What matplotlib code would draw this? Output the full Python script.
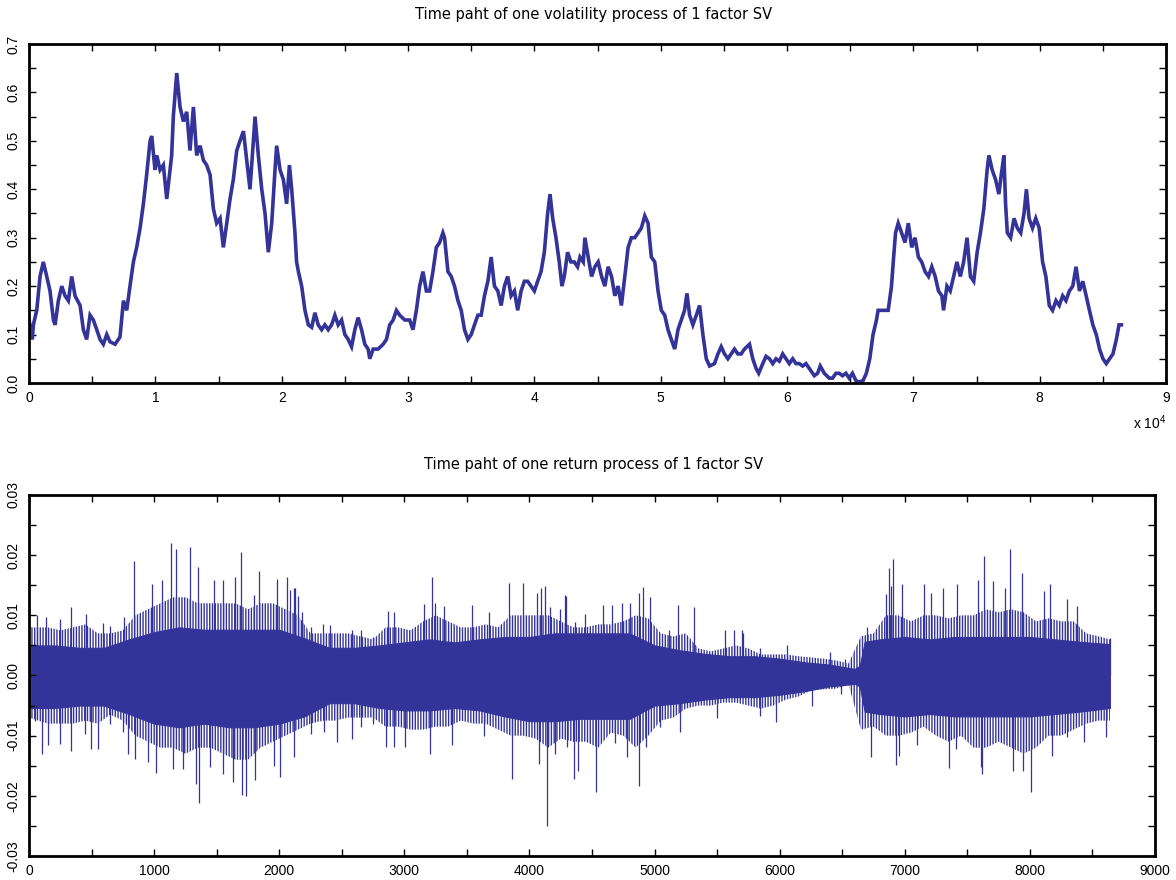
import numpy as np
import matplotlib
matplotlib.use("Agg")
import matplotlib.pyplot as plt
from matplotlib.ticker import MultipleLocator, FuncFormatter

LINE = "#333399"
plt.rcParams["hatch.linewidth"] = 1.0

# volatility path: step index (thousands) and level
vol_t = [0, 0.26, 0.34, 0.61, 0.87, 1.13, 1.40, 1.66, 1.93, 2.06, 2.32, 2.59, 2.85, 3.11, 3.38, 3.64,
         4.04, 4.30, 4.56, 4.83, 5.09, 5.36, 5.62, 5.88, 6.15, 6.41, 6.81, 7.20, 7.47, 7.73, 7.99,
         8.26, 8.52, 8.79, 9.05, 9.31, 9.58, 9.71, 9.97, 10.11, 10.37, 10.63, 10.90, 11.16, 11.29,
         11.42, 11.69, 11.95, 12.22, 12.48, 12.74, 13.01, 13.27, 13.54, 13.80, 14.06, 14.33, 14.59,
         14.85, 15.12, 15.38, 15.65, 15.91, 16.17, 16.44, 16.70, 16.97, 17.23, 17.49, 17.76, 17.89,
         18.15, 18.42, 18.68, 18.94, 19.21, 19.47, 19.60, 19.87,
         20.13, 20.39, 20.61, 20.79, 21.05, 21.18, 21.32, 21.58, 21.84, 22.11, 22.37, 22.63, 22.89,
         23.16, 23.42, 23.68, 23.95, 24.21, 24.47, 24.74, 25.00, 25.26, 25.53, 25.79, 26.05, 26.32,
         26.58, 26.84, 26.97, 27.24, 27.63, 28.03, 28.29, 28.55, 28.82, 29.08, 29.34, 29.74, 30.13,
         30.39, 30.66, 30.92, 31.18, 31.45, 31.71, 31.97, 32.24, 32.50, 32.76, 32.89, 33.16, 33.42,
         33.68, 33.95, 34.21, 34.47, 34.74, 35.00, 35.26, 35.53, 35.79, 36.05, 36.32, 36.58, 36.84,
         37.11, 37.37, 37.63, 37.89, 38.16, 38.42, 38.68, 38.95, 39.21, 39.47, 39.74, 40.00, 40.26,
         40.53, 40.79, 41.05, 41.24, 41.45, 41.71, 41.97, 42.18, 42.37, 42.63, 42.89, 43.16, 43.42,
         43.61, 43.87, 44.00, 44.26, 44.53, 44.79, 45.05, 45.32, 45.58, 45.84, 46.11, 46.37, 46.63,
         46.89, 47.16, 47.42, 47.68, 47.95, 48.21, 48.47, 48.74, 49.00, 49.26, 49.53, 49.79, 50.05,
         50.32, 50.58, 50.84, 51.11, 51.37, 51.63, 51.89, 52.08, 52.29, 52.55, 52.82, 53.08, 53.34,
         53.61, 53.87, 54.26, 54.53, 54.79, 55.05, 55.32, 55.58, 55.84, 56.11, 56.37, 56.63, 57.03,
         57.29, 57.55, 57.76, 58.08, 58.34, 58.61, 58.87, 59.13, 59.39, 59.66, 59.92, 60.18, 60.45,
         60.71, 60.97, 61.24, 61.50, 61.76, 62.16, 62.42, 62.63, 62.95, 63.34, 63.61, 63.87, 64.13,
         64.39, 64.66, 64.92, 65.18, 65.45, 65.71,
         66.02, 66.28, 66.55, 66.81, 67.08, 67.21, 67.48, 67.74, 68.01, 68.27, 68.41, 68.59, 68.80,
         69.07, 69.34, 69.60, 69.87, 70.13, 70.40, 70.66, 70.93, 71.20, 71.46, 71.73, 71.99, 72.26,
         72.39, 72.66, 72.92, 73.19, 73.45, 73.72, 73.98, 74.25, 74.52, 74.78, 75.05, 75.31, 75.58,
         75.84, 75.98, 76.24, 76.51, 76.77, 76.96, 77.17, 77.30, 77.44, 77.70, 77.97, 78.23, 78.50,
         78.76, 78.95, 79.16, 79.43, 79.69, 79.96, 80.23, 80.49, 80.76, 81.02, 81.29, 81.55, 81.82,
         82.08, 82.35, 82.62, 82.88, 83.15, 83.41, 83.68, 83.94, 84.21, 84.48, 84.74, 85.01, 85.27,
         85.54, 85.80, 86.07, 86.28, 86.47]
vol_v = [0.13, 0.09, 0.12, 0.15, 0.22, 0.25, 0.22, 0.19, 0.13, 0.12, 0.17, 0.20, 0.18, 0.17, 0.22, 0.18,
         0.16, 0.11, 0.09, 0.14, 0.13, 0.11, 0.09, 0.08, 0.10, 0.085, 0.08, 0.095, 0.17, 0.15, 0.20,
         0.25, 0.28, 0.32, 0.37, 0.43, 0.50, 0.51, 0.44, 0.47, 0.44, 0.45, 0.38, 0.44, 0.47,
         0.55, 0.64, 0.57, 0.54, 0.56, 0.48, 0.57, 0.47, 0.49, 0.46, 0.45, 0.43, 0.36,
         0.33, 0.34, 0.28, 0.33, 0.38, 0.42, 0.48, 0.50, 0.52, 0.46, 0.40, 0.50, 0.55,
         0.47, 0.40, 0.35, 0.27, 0.33, 0.44, 0.49, 0.44,
         0.42, 0.37, 0.45, 0.40, 0.31, 0.25, 0.23, 0.20, 0.15, 0.12, 0.115, 0.145, 0.12,
         0.11, 0.12, 0.11, 0.12, 0.14, 0.12, 0.13, 0.10, 0.09, 0.075, 0.11, 0.135, 0.11,
         0.08, 0.07, 0.05, 0.07, 0.07, 0.08, 0.09, 0.12, 0.13, 0.15, 0.14, 0.13, 0.13,
         0.11, 0.15, 0.20, 0.23, 0.19, 0.19, 0.23, 0.28, 0.29, 0.31, 0.30, 0.23, 0.22,
         0.20, 0.17, 0.15, 0.11, 0.09, 0.10, 0.12, 0.14, 0.14, 0.18, 0.21, 0.26, 0.20,
         0.19, 0.16, 0.20, 0.22, 0.18, 0.19, 0.15, 0.19, 0.21, 0.21, 0.20, 0.19, 0.21,
         0.23, 0.27, 0.35, 0.39, 0.34, 0.30, 0.25, 0.20, 0.22, 0.27, 0.25, 0.25, 0.24,
         0.26, 0.25, 0.30, 0.26, 0.22, 0.24, 0.25, 0.22, 0.20, 0.24, 0.22, 0.18, 0.20,
         0.16, 0.22, 0.28, 0.30, 0.30, 0.31, 0.32, 0.345, 0.33, 0.26, 0.25, 0.19, 0.15,
         0.14, 0.11, 0.09, 0.07, 0.11, 0.13, 0.15, 0.185, 0.14, 0.12, 0.14, 0.16, 0.10,
         0.05, 0.035, 0.04, 0.06, 0.075, 0.06, 0.05, 0.06, 0.07, 0.06, 0.06, 0.07, 0.08,
         0.05, 0.03, 0.02, 0.04, 0.055, 0.05, 0.04, 0.05, 0.045, 0.06, 0.05, 0.04, 0.05,
         0.04, 0.04, 0.035, 0.04, 0.03, 0.015, 0.02, 0.035, 0.02, 0.01, 0.01, 0.02, 0.02,
         0.015, 0.02, 0.01, 0.02, 0.005, 0.002,
         0.005, 0.02, 0.05, 0.10, 0.13, 0.15, 0.15, 0.15, 0.15, 0.20, 0.25, 0.31, 0.33,
         0.31, 0.29, 0.33, 0.28, 0.30, 0.26, 0.25, 0.23, 0.22, 0.24, 0.22, 0.19, 0.18,
         0.15, 0.20, 0.19, 0.22, 0.25, 0.22, 0.25, 0.30, 0.22, 0.21, 0.27, 0.31, 0.36,
         0.44, 0.47, 0.44, 0.42, 0.39, 0.43, 0.47, 0.37, 0.31, 0.30, 0.34, 0.32, 0.31,
         0.35, 0.40, 0.34, 0.32, 0.34, 0.32, 0.25, 0.22, 0.16, 0.15, 0.17, 0.16, 0.18,
         0.17, 0.19, 0.20, 0.24, 0.19, 0.21, 0.18, 0.15, 0.12, 0.10, 0.07, 0.05, 0.04,
         0.05, 0.06, 0.09, 0.12, 0.12]

# returns (x 1e-3): solid core of the trace
band_t = [0, 200, 400, 600, 800, 1000, 1200, 1400, 1600, 1800, 2000, 2200, 2400, 2600, 2800,
          3000, 3200, 3400, 3600, 3800, 4000, 4200, 4400, 4600, 4800, 5000, 5200, 5400, 5600,
          5800, 6000, 6200, 6400, 6600, 6640, 6680, 6800, 7000, 7200, 7400, 7600, 7800, 8000,
          8200, 8400, 8640]
band_hi = [5.0, 5.0, 4.6, 4.6, 6.0, 7.2, 8.0, 7.6, 7.6, 7.6, 7.6, 6.2, 4.6, 4.6, 5.0,
           5.5, 6.0, 5.5, 6.0, 6.4, 6.4, 7.0, 7.0, 7.0, 7.0, 5.0, 4.2, 3.6, 3.2,
           3.2, 2.8, 2.2, 1.8, 1.1, 1.6, 5.6, 6.0, 6.4, 6.0, 6.4, 6.4, 6.4, 6.4,
           6.0, 5.6, 5.2]
band_lo = [-5.4, -5.4, -5.0, -5.0, -6.4, -8.0, -8.6, -8.0, -8.6, -8.6, -8.0, -6.8, -4.6, -4.6, -5.4,
           -5.8, -5.8, -5.4, -5.8, -6.8, -7.6, -7.6, -7.2, -7.2, -7.2, -5.0, -4.6, -4.0, -3.6,
           -3.6, -3.2, -2.6, -1.8, -1.4, -1.8, -6.0, -6.4, -6.8, -6.4, -6.8, -6.8, -6.8, -6.8,
           -6.4, -6.0, -5.4]

# returns (x 1e-3): usual reach of the trace in each block of 100 steps
reach_hi = [8.0, 8.0, 7.5, 8.0, 8.5, 7.0, 7.0, 7.5, 10.0, 11.0, 12.0, 13.0, 13.0, 12.0, 12.0,
            12.0, 12.0, 11.0, 12.0, 12.0, 11.0, 10.0, 7.0, 7.0, 7.0, 7.0, 6.5, 6.0, 8.0, 8.0,
            7.5, 9.0, 10.0, 9.0, 8.0, 8.0, 8.5, 8.0, 10.0, 10.0, 10.0, 10.0, 9.0, 8.0, 8.0,
            8.5, 8.5, 9.0, 10.0, 9.5, 7.0, 6.5, 7.0, 4.5, 4.0, 4.5, 5.0, 4.5, 3.5, 3.5,
            3.5, 3.2, 3.0, 2.8, 2.5, 2.0, 6.5, 7.0, 10.0, 10.0, 9.0, 10.0, 10.0, 9.5, 10.0,
            10.0, 11.0, 10.5, 11.0, 10.5, 9.0, 9.5, 9.0, 9.0, 7.0, 6.5, 6.0]
reach_lo = [-7.0, -8.0, -8.0, -8.0, -7.5, -8.0, -6.5, -7.5, -10.0, -11.0, -12.0, -12.0, -13.0, -12.0, -12.0,
            -13.0, -14.0, -14.0, -12.0, -11.0, -10.0, -9.0, -8.0, -7.5, -7.5, -7.0, -7.0, -7.0, -8.5, -8.5,
            -9.0, -9.0, -8.5, -8.5, -7.5, -8.0, -8.0, -9.0, -10.0, -10.0, -10.5, -12.0, -10.5, -11.0, -11.0,
            -12.0, -9.5, -10.0, -12.0, -10.0, -7.5, -7.0, -5.5, -5.0, -5.0, -4.5, -4.5, -5.0, -5.5, -5.0,
            -4.0, -3.5, -2.5, -2.3, -2.2, -1.5, -9.0, -8.5, -10.0, -10.0, -9.5, -8.5, -10.0, -11.0, -10.0,
            -12.0, -12.0, -11.0, -12.0, -13.0, -12.0, -10.0, -10.0, -9.0, -8.0, -7.5, -7.5]

# returns (x 1e-3): isolated large moves
spike_t = [67, 134, 250, 335, 456, 590, 650, 756, 836, 979, 1064, 1134, 1172, 1287, 1354, 1475,
           1550, 1649, 1694, 1796, 1842, 1984, 2059, 2118, 2250, 2350, 2650, 2750,
           50, 107, 155, 250, 335, 450, 496, 550, 650, 750, 791, 850, 950, 1011, 1150, 1228, 1335,
           1359, 1448, 1550, 1627, 1702, 1735, 1810, 1962, 2003, 2250, 2650, 2750, 2850,
           2088, 2128, 2147, 2181, 2408, 2581, 2867, 2915, 3155, 3221, 3248, 3315, 3541, 3675, 3835,
           3947, 4061, 4090, 4128, 4168, 4293, 4368,
           2115, 2355, 2461, 2581, 2915, 3008, 3203, 3381, 3635, 3861, 4075, 4141, 4208, 4301, 4355,
           4245, 4285, 4445, 4587, 4659, 4739, 4805, 4872, 4907, 4964, 5112, 5184, 5317, 5560, 5632,
           5699, 5710, 5845, 6059, 6405, 6525,
           4392, 4531, 4685, 4779, 4877, 4933, 5045, 5205, 5499, 5845, 5973, 6259,
           6702, 6848, 6875, 6894, 6907, 6981, 7154, 7207, 7309, 7420, 7588, 7636, 7707, 7798, 7840,
           7939, 8112, 8160, 8298, 8378, 8638,
           6489, 6734, 6934, 6955, 7101, 7354, 7407, 7606, 7614, 7867, 7947, 8011, 8178, 8298, 8431,
           8612]
spike_v = [10.0, 9.8, 9.4, 11.4, 10.3, 8.7, 8.3, 9.8, 19.0, 15.2, 15.8, 22.0, 21.0, 21.3, 18.0, 15.9,
           15.8, 16.4, 20.6, 13.4, 17.3, 16.0, 16.4, 14.5, 8.1, 8.6, 7.5, 6.4,
           -7.5, -13.0, -11.6, -11.4, -12.6, -9.7, -12.2, -12.2, -8.1, -9.4, -13.0, -13.9, -14.4,
           -16.2, -15.6, -15.6, -18.0, -21.2, -15.2, -16.4, -17.7, -19.8, -20.0, -17.4, -15.1, -16.9,
           -9.7, -8.6, -8.1, -11.9,
           14.2, 14.6, 13.2, 10.6, 8.4, 7.6, 10.8, 10.6, 11.9, 16.4, 12.1, 11.6, 11.7, 10.5, 15.3,
           15.3, 13.7, 14.6, 14.9, 11.4, 13.2, 8.9,
           -13.6, -9.4, -11.0, -10.5, -11.9, -11.9, -13.0, -11.6, -10.0, -17.2, -14.7, -25.0, -13.0,
           -11.9, -17.2,
           11.0, 13.4, 10.3, 11.7, 11.7, 12.0, 12.1, 13.7, 14.7, 13.0, 7.6, 11.7, 11.4, 7.6, 7.6,
           7.5, 7.0, 4.5, 5.0, 3.9, 2.8,
           -15.8, -19.4, -11.3, -13.6, -18.4, -11.9, -8.6, -9.4, -7.0, -6.8, -7.7, -5.1,
           8.1, 13.5, 17.8, 14.8, 19.4, 15.2, 15.2, 13.7, 14.5, 15.2, 15.9, 19.8, 15.7, 14.5, 21.0,
           17.1, 14.1, 15.2, 12.7, 11.6, 6.3,
           -3.0, -13.6, -14.8, -13.3, -11.6, -15.4, -12.3, -15.2, -16.4, -15.8, -15.8, -19.4, -13.4,
           -10.2, -11.0, -10.2]


def style_axes(ax):
    for s in ax.spines.values():
        s.set_linewidth(2.0)
    ax.tick_params(which="both", direction="in", top=True, right=True,
                   length=5, width=1, labelsize=10, pad=6)
    for lab in ax.get_xticklabels() + ax.get_yticklabels():
        lab.set_family("Liberation Sans")
    plt.setp(ax.get_yticklabels(), rotation=90, va="center")


fig = plt.figure(figsize=(11.76, 8.8), dpi=100)
ax1 = fig.add_axes([0.0247, 0.5648, 0.9668, 0.3852])
ax2 = fig.add_axes([0.0247, 0.0273, 0.9574, 0.4102])

# top: volatility path
ax1.plot(np.array(vol_t) * 1000, vol_v, color=LINE, lw=2.6, solid_joinstyle="miter")
ax1.set_xlim(0, 90000)
ax1.set_ylim(0, 0.7)
ax1.xaxis.set_major_locator(MultipleLocator(10000))
ax1.xaxis.set_minor_locator(MultipleLocator(5000))
ax1.yaxis.set_major_locator(MultipleLocator(0.1))
ax1.yaxis.set_minor_locator(MultipleLocator(0.05))
ax1.xaxis.set_major_formatter(FuncFormatter(lambda x, p: "%d" % round(x / 10000)))
ax1.yaxis.set_major_formatter(FuncFormatter(lambda y, p: "%.1f" % y))
style_axes(ax1)
ax1.text(1.0, -0.118, r"x $\mathregular{10^4}$", transform=ax1.transAxes,
         ha="right", va="center", fontsize=10, family="Liberation Sans")
fig.text(0.505, 0.983, "Time paht of one volatility process of 1 factor SV",
         ha="center", va="center", fontsize=10.5)

# bottom: return path
reach_t = np.minimum(np.arange(len(reach_hi)) * 100 + 50, band_t[-1])
reach_t[0] = 0
ax2.fill_between(reach_t, np.array(reach_lo) / 1000, np.array(reach_hi) / 1000,
                 facecolor="none", edgecolor=LINE, hatch="||||||", lw=0)
ax2.fill_between(band_t, np.array(band_lo) / 1000, np.array(band_hi) / 1000,
                 color=LINE, lw=0.8)
ax2.vlines(spike_t, 0, np.array(spike_v) / 1000, color=LINE, lw=0.9)
ax2.set_xlim(0, 9000)
ax2.set_ylim(-0.03, 0.03)
ax2.xaxis.set_major_locator(MultipleLocator(1000))
ax2.xaxis.set_minor_locator(MultipleLocator(500))
ax2.yaxis.set_major_locator(MultipleLocator(0.01))
ax2.yaxis.set_minor_locator(MultipleLocator(0.005))
ax2.yaxis.set_major_formatter(FuncFormatter(lambda y, p: "%.2f" % y if abs(y) > 1e-9 else "0.00"))
style_axes(ax2)
fig.text(0.505, 0.472, "Time paht of one return process of 1 factor SV",
         ha="center", va="center", fontsize=10.5)

fig.savefig("out.png", dpi=100)
